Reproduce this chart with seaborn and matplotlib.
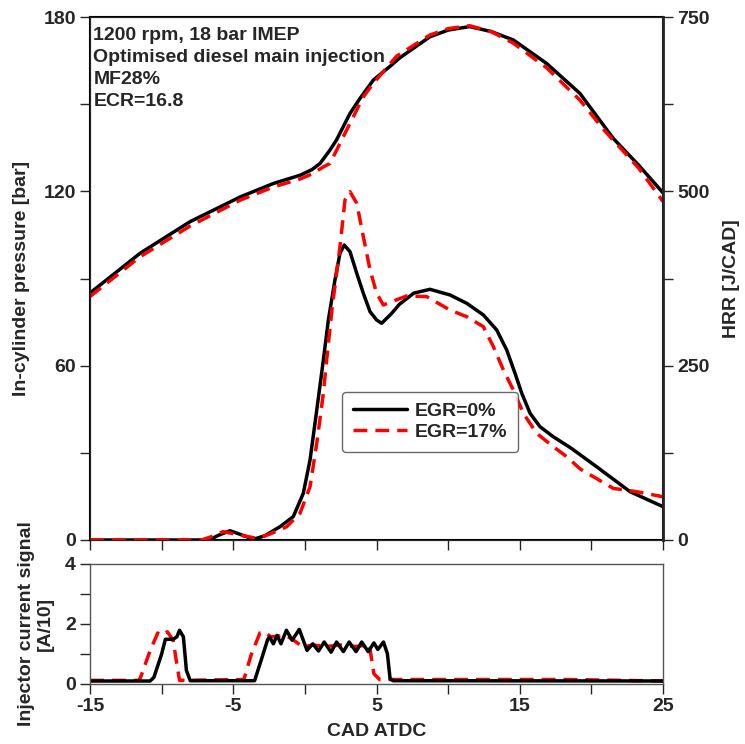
import matplotlib
matplotlib.use("Agg")
import matplotlib.pyplot as plt
import seaborn as sns
import pandas as pd
from matplotlib.lines import Line2D
from matplotlib.ticker import MultipleLocator, FixedLocator

# ---------------- data ----------------
# In-cylinder pressure [bar]
p_cad_egr0 = [-15, -11.5, -8.0, -4.5, -2.2, -0.3, 0.5, 1.06, 1.75, 2.2, 3.15, 3.85, 4.78,
              5.94, 6.64, 8.73, 10.0, 11.5, 13.0, 14.55, 16.88, 19.2, 21.53, 23.3, 25]
p_egr0 = [85.0, 98.7, 109.6, 118.1, 122.7, 125.6, 127.5, 129.6, 134.2, 137.6, 146.8, 152.0, 158.3,
          163.0, 166.0, 173.2, 175.5, 176.7, 175.0, 172.1, 164.0, 153.7, 138.2, 129.0, 119.5]

p_cad_egr17 = [-15, -11.5, -8.0, -4.5, -2.2, -0.3, 0.5, 1.29, 1.75, 2.22, 2.68, 3.15, 4.08,
               4.78, 6.4, 8.73, 10.0, 11.5, 13.0, 14.55, 16.88, 19.2, 20.9, 23.3, 25]
p_egr17 = [83.8, 97.5, 108.1, 117.0, 121.5, 124.3, 126.0, 128.4, 129.6, 134.2, 138.8, 143.4, 152.5,
           157.2, 166.5, 173.8, 176.0, 177.0, 175.0, 171.0, 162.5, 151.4, 141.0, 128.0, 116.5]

# Heat release rate [J/CAD]
h_cad_egr0 = [-15, -12, -9, -7.5, -6.6, -6.0, -5.23, -4.5, -3.6, -2.8, -1.74, -0.81, -0.11, 0.36,
              0.83, 1.29, 1.64, 2.10, 2.45, 2.75, 3.15, 3.62, 4.08, 4.55, 5.01, 5.36, 6.06, 6.6,
              7.6, 8.73, 10.13, 11.30, 12.46, 13.39, 14.09, 14.67, 15.14, 15.72, 16.41, 17.34,
              18.6, 20.37, 22.7, 25]
h_egr0 = [0, 0, 0, 0, 1, 7, 13.3, 8, 1, 6, 19, 33.5, 67, 114.7,
          186.4, 258, 315.5, 372.9, 411.2, 423, 413.5, 382.5, 353.8, 327.4, 315.5, 310.8, 325, 338,
          354, 359.5, 351.4, 339.4, 322.7, 301.2, 272.5, 239, 210.4, 181.7, 162.5, 148.1,
          131.5, 105, 69.3, 47.8]

h_cad_egr17 = [-15, -12, -9, -7.2, -6.5, -5.7, -4.5, -3.36, -2.5, -1.27, -0.34, 0.36, 0.83, 1.29,
               1.52, 1.9, 2.45, 2.80, 3.15, 3.62, 4.08, 4.55, 5.01, 5.48, 6.06, 7.11, 8.5, 10.13,
               11.30, 12.46, 13.16, 13.86, 14.55, 15.25, 16.18, 17.34, 18.28, 19.21, 21.53, 23.16, 25]
h_egr17 = [0, 0, 0, 0, 5, 12, 7, 2.4, 8, 19, 38.3, 76.4, 138.7, 210.4,
           258, 332, 420.7, 487.6, 499.5, 482.9, 435, 387.2, 353.8, 337, 341.8, 350, 349, 329.8,
           320.2, 305.9, 277.2, 243.8, 215.1, 181.7, 153, 133.8, 119.5, 102, 74, 69.3, 62]

# Injector current signal [A/10]
i_cad_egr0 = [-15, -10.8, -10.54, -10.0, -9.74, -9.2, -8.94, -8.75, -8.48, -8.27, -8.0, -3.51, -3.06,
              -2.6, -2.47, -2.20, -1.94, -1.67, -1.29, -0.89, -0.39, 0.15, 0.55, 0.95, 1.35, 1.83,
              2.21, 2.69, 3.09, 3.57, 3.97, 4.42, 4.82, 5.09, 5.49, 5.76, 5.95, 6.16, 25]
i_egr0 = [0.1, 0.1, 0.22, 1.0, 1.49, 1.49, 1.57, 1.79, 1.57, 0.45, 0.11, 0.11, 0.78,
          1.48, 1.57, 1.34, 1.62, 1.34, 1.79, 1.46, 1.82, 1.12, 1.34, 1.10, 1.40, 1.06,
          1.40, 1.08, 1.40, 1.08, 1.40, 1.08, 1.37, 1.15, 1.40, 1.01, 0.17, 0.11, 0.1]

i_cad_egr17 = [-15, -11.6, -11.47, -10.8, -10.27, -10.0, -9.6, -9.2, -8.94, -8.75, -4.26, -3.73,
               -3.14, -2.79, -2.39, -1.32, -0.79, -0.12, 0.5, 1.5, 2.5, 3.5, 4.5, 4.82, 5.22, 18.2, 25]
i_egr17 = [0.12, 0.12, 0.22, 1.12, 1.70, 1.62, 1.74, 1.46, 0.67, 0.12, 0.15, 1.0,
           1.70, 1.74, 1.57, 1.62, 1.46, 1.23, 1.30, 1.25, 1.30, 1.25, 1.30, 0.34, 0.15, 0.15, 0.1]

labels = ["EGR=0%", "EGR=17%"]
annotation = "1200 rpm, 18 bar IMEP\nOptimised diesel main injection\nMF28%\nECR=16.8"

# ---------------- style ----------------
sns.set_style("ticks")
plt.rcParams["font.family"] = ["Liberation Sans", "DejaVu Sans"]
plt.rcParams["font.weight"] = "bold"
plt.rcParams["axes.labelweight"] = "bold"
plt.rcParams["axes.unicode_minus"] = False
FS = 14

BLACK = "black"
RED = "#ff0000"
LW = 2.5
DASH = (0, (4, 2.3))

fig = plt.figure(figsize=(7.45, 7.44), dpi=100)
ax1 = fig.add_axes([90 / 745, 1 - 540 / 744, 573 / 745, 523 / 744])
ax2 = ax1.twinx()
ax3 = fig.add_axes([90 / 745, 1 - 684 / 744, 573 / 745, 120 / 744])

def df(x, y):
    return pd.DataFrame({"x": x, "y": y})

# pressure
sns.lineplot(data=df(p_cad_egr0, p_egr0), x="x", y="y", ax=ax1, color=BLACK, linewidth=LW)
sns.lineplot(data=df(p_cad_egr17, p_egr17), x="x", y="y", ax=ax1, color=RED, linewidth=LW,
             linestyle=DASH)
# HRR
sns.lineplot(data=df(h_cad_egr0, h_egr0), x="x", y="y", ax=ax2, color=BLACK, linewidth=LW)
sns.lineplot(data=df(h_cad_egr17, h_egr17), x="x", y="y", ax=ax2, color=RED, linewidth=LW,
             linestyle=DASH)
# injector
sns.lineplot(data=df(i_cad_egr17, i_egr17), x="x", y="y", ax=ax3, color=RED, linewidth=LW,
             linestyle=DASH)
sns.lineplot(data=df(i_cad_egr0, i_egr0), x="x", y="y", ax=ax3, color=BLACK, linewidth=LW)

# ---------------- axes formatting ----------------
for ax in (ax1, ax2, ax3):
    ax.set_xlim(-15, 25)

ax1.set_ylim(0, 180)
ax2.set_ylim(0, 750)
ax3.set_ylim(0, 4)

ax1.yaxis.set_major_locator(MultipleLocator(60))
ax1.yaxis.set_minor_locator(MultipleLocator(30))
ax2.yaxis.set_major_locator(MultipleLocator(250))
ax2.yaxis.set_minor_locator(MultipleLocator(125))
ax1.xaxis.set_major_locator(MultipleLocator(5))
ax1.set_xticklabels([])
ax3.yaxis.set_major_locator(MultipleLocator(2))
ax3.yaxis.set_minor_locator(MultipleLocator(1))
ax3.xaxis.set_major_locator(FixedLocator([-15, -5, 5, 15, 25]))
ax3.xaxis.set_minor_locator(FixedLocator([-10, 0, 10, 20]))

for ax in (ax1, ax2, ax3):
    ax.tick_params(which="both", direction="out", length=7, width=1, labelsize=FS, pad=3)
    for lab in ax.get_xticklabels() + ax.get_yticklabels():
        lab.set_fontweight("bold")

ax1.set_xlabel("")
ax2.set_xlabel("")
ax1.set_ylabel("In-cylinder pressure [bar]", fontsize=FS, fontweight="bold", labelpad=10)
ax2.set_ylabel("HRR [J/CAD]", fontsize=FS, fontweight="bold", labelpad=10)
ax3.set_ylabel("Injector current signal\n[A/10]", fontsize=FS, fontweight="bold", labelpad=8,
               linespacing=1.2)
ax3.set_xlabel("CAD ATDC", fontsize=FS, fontweight="bold", labelpad=6)

for sp in ax1.spines.values():
    sp.set_color("black")
    sp.set_linewidth(1.5)
ax2.spines["right"].set_linewidth(2)
for sp in ax3.spines.values():
    sp.set_color("#555555")
    sp.set_linewidth(1)

ax1.text(0.006, 0.98, annotation, transform=ax1.transAxes, ha="left", va="top",
         fontsize=FS, fontweight="bold", linespacing=1.38)

handles = [Line2D([], [], color=BLACK, linewidth=LW),
           Line2D([], [], color=RED, linewidth=LW, linestyle=DASH)]
leg = ax2.legend(handles, labels, loc="upper left", bbox_to_anchor=(0.44, 0.283),
                 borderaxespad=0, frameon=True, fancybox=True,
                 handlelength=2.8, handletextpad=0.4, borderpad=0.55, labelspacing=0.15,
                 prop={"weight": "bold", "size": FS})
leg.get_frame().set_edgecolor("#444444")
leg.get_frame().set_linewidth(1)

fig.savefig("out.png", dpi=100)
